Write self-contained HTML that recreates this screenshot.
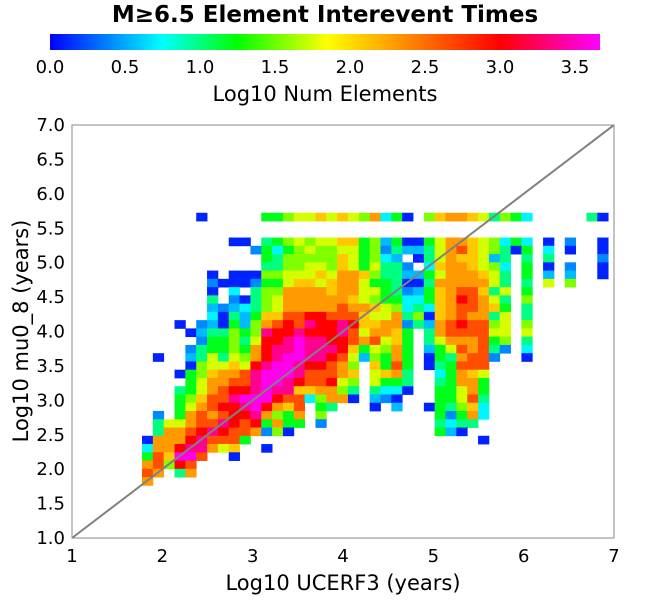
<!DOCTYPE html>
<html>
<head>
<meta charset="utf-8">
<style>
  html,body{margin:0;padding:0;background:#fff;}
  svg{display:block;font-family:"DejaVu Sans","Liberation Sans",sans-serif;}
</style>
</head>
<body>
<svg id="chart" width="650" height="600" viewBox="0 0 650 600" xmlns="http://www.w3.org/2000/svg">
  <defs>
    <linearGradient id="cbar" x1="0" x2="1" y1="0" y2="0">
      <stop offset="0" stop-color="#0000ff"/>
      <stop offset="0.2044" stop-color="#00ffff"/>
      <stop offset="0.3406" stop-color="#00ff00"/>
      <stop offset="0.5041" stop-color="#ffff00"/>
      <stop offset="0.8174" stop-color="#ff0000"/>
      <stop offset="1" stop-color="#ff00ff"/>
    </linearGradient>
  </defs>
  <text x="325" y="22" text-anchor="middle" font-size="23" font-weight="bold">M≥6.5 Element Interevent Times</text>
  <rect x="50" y="34" width="550" height="16" fill="url(#cbar)"/>
  <g id="cbticks" font-size="18" text-anchor="middle"></g>
  <text x="325" y="101" text-anchor="middle" font-size="21">Log10 Num Elements</text>
  <g id="cells"></g>
  <line id="diag" stroke="#808080" stroke-width="2"/>
  <rect x="72" y="125" width="542" height="413" fill="none" stroke="#8a8a8a" stroke-width="1"/>
  <g id="xticks" font-size="18" text-anchor="middle"></g>
  <g id="yticks" font-size="18" text-anchor="end"></g>
  <text x="343" y="590" text-anchor="middle" font-size="21">Log10 UCERF3 (years)</text>
  <text transform="translate(28,331) rotate(-90)" text-anchor="middle" font-size="21">Log10 mu0_8 (years)</text>
</svg>
<script>
const xTicks = [1, 2, 3, 4, 5, 6, 7];
const yTicks = [1.0, 1.5, 2.0, 2.5, 3.0, 3.5, 4.0, 4.5, 5.0, 5.5, 6.0, 6.5, 7.0];
const cbarTicks = [0.0, 0.5, 1.0, 1.5, 2.0, 2.5, 3.0, 3.5];
const levelChars = ["B","L","S","C","T","G","H","Y","o","O","r","R","P","M"];
const levelValues = [0.1, 0.4, 0.55, 0.72, 1.0, 1.2, 1.55, 1.75, 2.1, 2.3, 2.65, 3.0, 3.38, 3.62];
const binX0 = 1.775;
const binY0 = 1.765;
const binSize = 0.12;
const rowStart = [5,0,0,8,10,11,11,6,6,6,6,6,6,3,4,5,4,1,4,3,4,3,3,3,1,1,1,0,0,0,0,0,0];
const rowCells = [
  "B....." + "GGHYYoYoYHOCGB.HoOOoYTHGC" + "....." + "TB",
  "",
  "",
  "BB.TGHYHYYooGHSGBBGYOOoYHCGC.B.L..B",
  "LGCGHYHHYYGHLTSSTYOroYHTBG.C.B..B",
  "GTHHHHHoYGHCS.BTYOooYST.T.T....L",
  "TTHHYYHoYGYTTL.CoOOoYHC.G.B.L..B",
  "B.BBBHHYYYoYOOoHTTSSGYOOOoYT.G.S.S..B",
  "LBBBLGGYooYoOOYGGTBBTOOOOOYT.T.Y.H",
  "B.C.THHOOOOoOOYYGTLSGoOrroTY.G",
  "T.LBTHYOOOOOOoYHGGCCGoORrOYT.H",
  "SLSCTHYO" + "OOOOrOOoYHCTCo" + "O" + "rrOoG.T",
  "CBTSGoor" + "rRRrrroYYOTHBo" + "O" + "rOOTY.T",
  "B.LSBGSHOrR" + "rPRRPRooOOLTSO" + "r" + "RrrHY.H",
  "BSTTHGHPRR" + "PRRRPrYOOoG.TO" + "r" + "rrrYY.Y",
  "LGGHTYRRP" + "MPPRRrOrYoG.TY" + "O" + "OOrGH.T",
  "LTGGHGORPP" + "MPPPRoGYHOG.SG" + "Y" + "rOrTL.C",
  "B..STYTYHORPM" + "MPPRrYSHGOG.BG" + "T" + "OrrL..B",
  "BHYYoYRPMM" + "PRRrOH.oGrG.BT" + "G" + "rrr",
  "BGHoOOrPMMM" + "PrrrOo.YoOT..C" + "G" + "OoY",
  "GYOOrrPMMP" + "RrrRYH.YGGT..T" + "G" + "OOG",
  "TGYOrRRPMPP" + "ooOOHT.TCCB..G" + "G" + "YOG",
  "GHorrPMMMRr" + "rCHOOB.SLB...G" + "G" + "YrT",
  "GYOrRRPMROo" + "r.GT...B.S..BG" + "T" + "HoC",
  "L.GOrOrRRPOHG" + "O.H..........G" + "L" + "GOC",
  "TYYOrrPRrRGOG" + "G.L..........T" + "C" + "TT",
  "TOOrRPRrrOLHB" + "............." + "G" + "S" + "B",
  "BOOORPrrrG" + "....................." + "B",
  "COORPPOYo..B",
  "GroMMr..B",
  "OrHRr",
  "rO.TO",
  "O"
];

const NS = "http://www.w3.org/2000/svg";
function xScale(v){ return 72 + (v - 1) * (542 / 6); }
function yScale(v){ return 538 - (v - 1) * (413 / 6); }
function cbScale(v){ return 50 + v * 150; }
const cmStops = [[0,[0,0,255]],[0.75,[0,255,255]],[1.25,[0,255,0]],[1.85,[255,255,0]],[3.0,[255,0,0]],[3.67,[255,0,255]]];
function colorOf(v){
  for (let i = 0; i < cmStops.length - 1; i++) {
    const a = cmStops[i], b = cmStops[i+1];
    if (v <= b[0] || i === cmStops.length - 2) {
      let t = (v - a[0]) / (b[0] - a[0]); t = Math.max(0, Math.min(1, t));
      const c = a[1].map((q, k) => Math.round(q + (b[1][k] - q) * t));
      return "rgb(" + c.join(",") + ")";
    }
  }
}

const cellsG = document.getElementById("cells");
const nRows = rowCells.length;
rowCells.forEach((row, r) => {
  const yLow = binY0 + (nRows - 1 - r) * binSize;
  for (let i = 0; i < row.length; i++) {
    const ch = row[i];
    const li = levelChars.indexOf(ch);
    if (li < 0) continue;
    const col = rowStart[r] + i;
    const xLow = binX0 + col * binSize;
    const x1 = xScale(xLow), x2 = xScale(xLow + binSize);
    const y1 = yScale(yLow + binSize), y2 = yScale(yLow);
    const rect = document.createElementNS(NS, "rect");
    
    
    rect.setAttribute("x", x1.toFixed(2));
    rect.setAttribute("y", y1.toFixed(2));
    rect.setAttribute("width", (x2 - x1 + 0.4).toFixed(2));
    rect.setAttribute("height", (y2 - y1 + 0.4).toFixed(2));
    rect.setAttribute("fill", colorOf(levelValues[li]));
    cellsG.appendChild(rect);
  }
});

const diag = document.getElementById("diag");
diag.setAttribute("x1", xScale(1)); diag.setAttribute("y1", yScale(1));
diag.setAttribute("x2", xScale(7)); diag.setAttribute("y2", yScale(7));

const xg = document.getElementById("xticks");
xTicks.forEach(v => {
  const t = document.createElementNS(NS, "text");
  
  
  t.setAttribute("x", xScale(v)); t.setAttribute("y", 562);
  t.textContent = String(v);
  xg.appendChild(t);
});
const yg = document.getElementById("yticks");
yTicks.forEach(v => {
  const t = document.createElementNS(NS, "text");
  
  
  t.setAttribute("x", 65); t.setAttribute("y", yScale(v) + 6);
  t.textContent = v.toFixed(1);
  yg.appendChild(t);
});
const cg = document.getElementById("cbticks");
cbarTicks.forEach(v => {
  const t = document.createElementNS(NS, "text");
  
  
  t.setAttribute("x", cbScale(v)); t.setAttribute("y", 73);
  t.textContent = v.toFixed(1);
  cg.appendChild(t);
});
</script>
</body>
</html>
